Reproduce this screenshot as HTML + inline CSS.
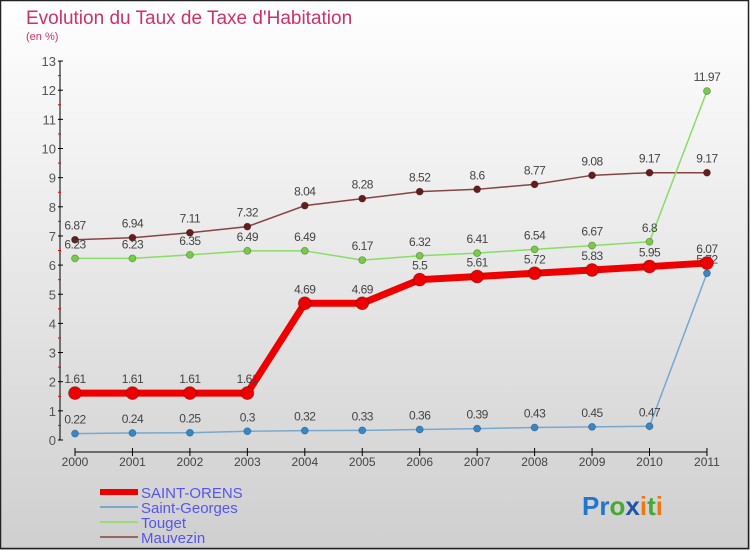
<!DOCTYPE html>
<html><head><meta charset="utf-8"><style>
body{margin:0}
svg{display:block;font-family:"Liberation Sans",sans-serif}
</style></head><body>
<svg width="750" height="550" xmlns="http://www.w3.org/2000/svg">
<defs><linearGradient id="bg" x1="0" y1="0" x2="0" y2="1"><stop offset="0" stop-color="#ffffff"/><stop offset="1" stop-color="#cfcfcf"/></linearGradient></defs>
<rect x="0" y="0" width="750" height="550" fill="url(#bg)"/>
<rect x="0.5" y="0.5" width="748" height="548" fill="none" stroke="#222" stroke-width="1.5"/>
<text x="26" y="24" font-size="19" fill="#d0306a">Evolution du Taux de Taxe d'Habitation</text>
<text x="26" y="40" font-size="11" fill="#d0306a">(en %)</text>
<g id="axes"></g>
<g id="series"></g>
<g>
<line x1="100" y1="492" x2="138" y2="492" stroke="#ee0000" stroke-width="6"/>
<text x="141" y="498" font-size="15" fill="#5555ee">SAINT-ORENS</text>
<line x1="100" y1="507" x2="138" y2="507" stroke="#7aa8cc" stroke-width="2"/>
<text x="141" y="513" font-size="15" fill="#5555ee">Saint-Georges</text>
<line x1="100" y1="522" x2="138" y2="522" stroke="#99dd77" stroke-width="2"/>
<text x="141" y="528" font-size="15" fill="#5555ee">Touget</text>
<line x1="100" y1="537" x2="138" y2="537" stroke="#996666" stroke-width="2"/>
<text x="141" y="543" font-size="15" fill="#5555ee">Mauvezin</text>
</g>
<g font-size="26" font-weight="bold">
<text x="582" y="515"><tspan fill="#2277cc">Pr</tspan><tspan fill="#44aa33">o</tspan><tspan fill="#2255aa">x</tspan><tspan fill="#ee7711">i</tspan><tspan fill="#44aa33">t</tspan><tspan fill="#ee7711">i</tspan></text>
</g>
</svg>
<script>
const years=["2000","2001","2002","2003","2004","2005","2006","2007","2008","2009","2010","2011"];
const yTicks=[0,1,2,3,4,5,6,7,8,9,10,11,12,13];
const saintOrens=[1.61,1.61,1.61,1.61,4.69,4.69,5.5,5.61,5.72,5.83,5.95,6.07];
const saintGeorges=[0.22,0.24,0.25,0.3,0.32,0.33,0.36,0.39,0.43,0.45,0.47,5.72];
const touget=[6.23,6.23,6.35,6.49,6.49,6.17,6.32,6.41,6.54,6.67,6.8,11.97];
const mauvezin=[6.87,6.94,7.11,7.32,8.04,8.28,8.52,8.6,8.77,9.08,9.17,9.17];
const NS="http://www.w3.org/2000/svg";
const X=i=>75+i*57.45;
const Y=v=>440-v*29.15;
function mk(p,t,a){const e=document.createElementNS(NS,t);for(const k in a)e.setAttribute(k,a[k]);p.appendChild(e);return e;}
const ax=document.getElementById('axes');
let e=mk(ax,'line',{x1:60,y1:Y(13),x2:60,y2:Y(0),stroke:'#000'});


yTicks.forEach(v=>{
 mk(ax,'line',{x1:58,y1:Y(v),x2:63,y2:Y(v),stroke:'#000'});
 if(v<13)mk(ax,'line',{x1:58,y1:Y(v+0.5),x2:61,y2:Y(v+0.5),stroke:'#ee0000'});
 const t=mk(ax,'text',{x:56,y:Y(v)+5,'font-size':13,fill:'#555','text-anchor':'end'});
 t.textContent=v;
 
 
});
e=mk(ax,'line',{x1:X(0),y1:452,x2:X(11),y2:452,stroke:'#000'});


years.forEach((y,i)=>{
 mk(ax,'line',{x1:X(i),y1:448,x2:X(i),y2:456,stroke:'#000'});
 const t=mk(ax,'text',{x:X(i),y:466,'font-size':12,fill:'#444','text-anchor':'middle'});
 t.textContent=y;
 
 
});
const sg=document.getElementById('series');
function draw(name,vals,color,w,r,dot){
 const g=mk(sg,'g',{});
 
 
 mk(g,'polyline',{points:vals.map((v,i)=>X(i)+','+Y(v)).join(' '),fill:'none',stroke:color,'stroke-width':w});
 vals.forEach((v,i)=>{
  const c=mk(g,'circle',{cx:X(i),cy:Y(v),r:r,fill:dot,stroke:'rgba(0,0,0,0.3)','stroke-width':0.8});
  
  
  const t=mk(g,'text',{x:X(i),y:Y(v)-10,'font-size':12,fill:'#444','text-anchor':'middle','letter-spacing':'-0.5'});
  t.textContent=v;
  
  
 });
}
draw('mauvezin',mauvezin,'#884444',1.5,3.5,'#661c1c');
draw('touget',touget,'#88dd66',1.5,3.5,'#77cc44');
draw('saint-georges',saintGeorges,'#77a8d0',1.5,3.5,'#3388cc');
draw('saint-orens',saintOrens,'#ee0000',7,6.5,'#ee0000');
</script>
</body></html>
